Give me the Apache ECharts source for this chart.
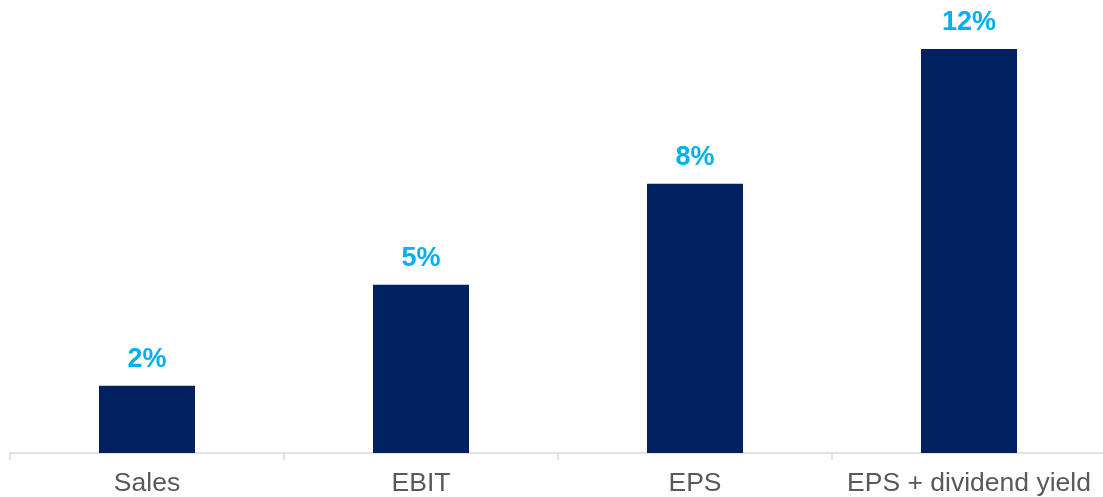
<!DOCTYPE html>
<html>
<head>
<meta charset="utf-8">
<script src="https://cdn.jsdelivr.net/npm/echarts@6/dist/echarts.min.js"></script>
<style>
  html, body { margin: 0; padding: 0; background: #fff; }
  #chart { width: 1103px; height: 497px; }
</style>
</head>
<body>
<div id="chart"></div>
<script>
var categories = ['Sales', 'EBIT', 'EPS', 'EPS + dividend yield'];
var growth = [2, 5, 8, 12];

var chart = echarts.init(document.getElementById('chart'));
var option = {
    animation: false,
    grid: {
        left: 10,
        width: 1096,
        top: 49,
        bottom: 44,
        outerBoundsMode: 'none'
    },
    xAxis: {
        type: 'category',
        data: categories,
        axisLine: { lineStyle: { color: '#d9d9d9', width: 1.5 } },
        axisTick: { show: true, length: 7, lineStyle: { color: '#d9d9d9', width: 1.5 } },
        axisLabel: {
            interval: 0,
            color: '#595959',
            fontFamily: 'Liberation Sans, Arial, sans-serif',
            fontSize: 26.5,
            margin: 17
        }
    },
    yAxis: {
        type: 'value',
        min: 0,
        max: 12,
        show: false,
        splitLine: { show: false }
    },
    series: [{
        type: 'bar',
        data: growth,
        barWidth: 96,
        itemStyle: { color: '#002060' },
        label: {
            show: true,
            position: 'top',
            distance: 13,
            color: '#00b0f0',
            fontWeight: 'bold',
            fontFamily: 'Liberation Sans, Arial, sans-serif',
            fontSize: 27,
            formatter: function (p) { return Math.round(p.value) + '%'; }
        }
    }]
};
chart.setOption(option);
window.addEventListener('resize', chart.resize);
</script>
</body>
</html>
